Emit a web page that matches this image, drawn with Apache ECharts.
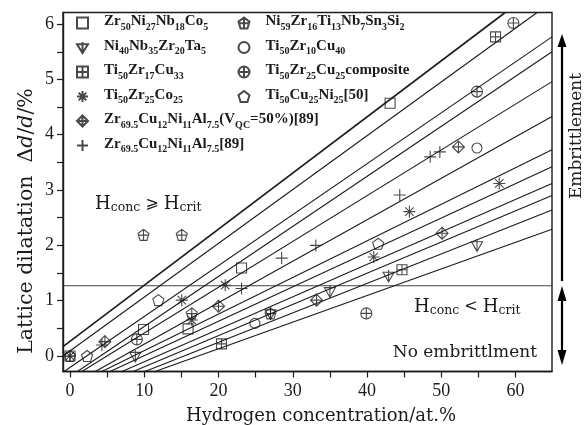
<!DOCTYPE html>
<html>
<head>
<meta charset="utf-8">
<script src="https://cdn.jsdelivr.net/npm/echarts@6/dist/echarts.min.js"></script>
<style>
  html, body { margin: 0; padding: 0; background: #fff; }
  #chart { width: 585px; height: 425px; }
</style>
</head>
<body>
<div id="chart"></div>
<script>
// ---- axis ticks and labels ----
const xTickValues = [0, 5, 10, 15, 20, 25, 30, 35, 40, 45, 50, 55, 60];
const xLabelValues = [0, 10, 20, 30, 40, 50, 60];
const yTickValues = [0, 0.5, 1, 1.5, 2, 2.5, 3, 3.5, 4, 4.5, 5, 5.5, 6];
const yLabelValues = [0, 1, 2, 3, 4, 5, 6];

// critical lattice dilatation separating the two regimes
const criticalDilatation = 1.27;

// ---- measured points: [H concentration at.%, lattice dilatation %] ----
const zrNiNbCo = [[0, 0], [9.9, 0.48], [15.9, 0.49], [23.1, 1.59], [43.1, 4.57]];
const niNbZrTa = [[8.8, 0], [27.0, 0.77], [35.0, 1.17], [42.9, 1.45], [54.8, 2.0]];
const tiZrCu33 = [[20.4, 0.22], [44.7, 1.56], [57.3, 5.77]];
const tiZrCo = [[0, 0], [15.05, 1.01], [16.4, 0.65], [20.9, 1.28], [40.9, 1.79], [45.7, 2.61], [57.8, 3.12]];
const zrCuNiAlQc = [[4.7, 0.26], [20.0, 0.9], [33.2, 1.01], [50.1, 2.22], [52.3, 3.78]];
const zrCuNiAl = [[4.3, 0.2], [23.1, 1.22], [28.5, 1.77], [33.1, 2.0], [44.4, 2.91], [48.5, 3.6], [49.8, 3.69]];
const niZrTiNbSnSi = [[0, 0], [9.9, 2.19], [15.05, 2.19], [16.4, 0.77], [27.0, 0.77]];
const tiZrCu40 = [[24.9, 0.59], [54.8, 3.76]];
const tiZrCuComposite = [[9.0, 0.3], [39.9, 0.77], [54.8, 4.78], [59.7, 6.02]];
const tiCuNi = [[2.3, 0], [11.9, 1.01], [41.5, 2.03]];

// ---- guide lines: [x start, y start, x end, y end] ----
const fanLines = [
  [-0.94, 0.17, 58.6, 6.21],
  [-0.94, 0.0, 62.9, 6.21],
  [-0.8, -0.28, 64.9, 5.77],
  [1.0, -0.28, 64.9, 5.5],
  [1.6, -0.28, 64.9, 4.96],
  [3.4, -0.28, 64.9, 4.33],
  [4.3, -0.28, 64.9, 3.73],
  [5.4, -0.28, 64.9, 3.42],
  [7.0, -0.28, 64.9, 3.12],
  [8.5, -0.28, 64.9, 2.9],
  [10.1, -0.28, 64.9, 2.64],
  [11.45, -0.28, 64.9, 2.29]
];

// ---- marker shapes ----
const P = 'path://';
const shapes = {
  square: P + 'M0,0H10V10H0Z',
  triStem: P + 'M0,2L10,2L5,10Z M5,0L5,10',
  squareCross: P + 'M0,0H10V10H0Z M5,0V10 M0,5H10',
  asterisk: P + 'M5,0V10 M0,5H10 M1.5,1.5L8.5,8.5 M8.5,1.5L1.5,8.5',
  diamondCross: P + 'M5,0L10,5L5,10L0,5Z M5,0V10 M0,5H10',
  plus: P + 'M5,0V10 M0,5H10',
  pentaCross: P + 'M5,0L10,3.8L8.1,10L1.9,10L0,3.8Z M5,0V10 M0,5.2H10',
  circle: P + 'M0,5A5,5,0,1,1,10,5A5,5,0,1,1,0,5Z',
  circleCross: P + 'M0,5A5,5,0,1,1,10,5A5,5,0,1,1,0,5Z M5,0V10 M0,5H10',
  pentagon: P + 'M5,0L10,3.8L8.1,10L1.9,10L0,3.8Z'
};

// legend entries: formulas written with _{...} for subscripts
const entries = [
  { name: 'Zr50Ni27Nb18Co5', label: 'Zr_{50}Ni_{27}Nb_{18}Co_{5}', data: zrNiNbCo, symbol: shapes.square, size: [10, 10] },
  { name: 'Ni40Nb35Zr20Ta5', label: 'Ni_{40}Nb_{35}Zr_{20}Ta_{5}', data: niNbZrTa, symbol: shapes.triStem, size: [11, 12] },
  { name: 'Ti50Zr17Cu33', label: 'Ti_{50}Zr_{17}Cu_{33}', data: tiZrCu33, symbol: shapes.squareCross, size: [10, 10] },
  { name: 'Ti50Zr25Co25', label: 'Ti_{50}Zr_{25}Co_{25}', data: tiZrCo, symbol: shapes.asterisk, size: [12, 12] },
  { name: 'Zr69.5Cu12Ni11Al7.5(VQC=50%)[89]', label: 'Zr_{69.5}Cu_{12}Ni_{11}Al_{7.5}(V_{QC}=50%)[89]', data: zrCuNiAlQc, symbol: shapes.diamondCross, size: [12, 12] },
  { name: 'Zr69.5Cu12Ni11Al7.5[89]', label: 'Zr_{69.5}Cu_{12}Ni_{11}Al_{7.5}[89]', data: zrCuNiAl, symbol: shapes.plus, size: [12, 12] },
  { name: 'Ni59Zr16Ti13Nb7Sn3Si2', label: 'Ni_{59}Zr_{16}Ti_{13}Nb_{7}Sn_{3}Si_{2}', data: niZrTiNbSnSi, symbol: shapes.pentaCross, size: [11, 11] },
  { name: 'Ti50Zr10Cu40', label: 'Ti_{50}Zr_{10}Cu_{40}', data: tiZrCu40, symbol: shapes.circle, size: [10, 10] },
  { name: 'Ti50Zr25Cu25composite', label: 'Ti_{50}Zr_{25}Cu_{25}composite', data: tiZrCuComposite, symbol: shapes.circleCross, size: [11, 11] },
  { name: 'Ti50Cu25Ni25[50]', label: 'Ti_{50}Cu_{25}Ni_{25}[50]', data: tiCuNi, symbol: shapes.pentagon, size: [11, 11] }
];

function toRich(str) {
  const out = [];
  const re = /_\{([^}]*)\}/g;
  let last = 0, m;
  while ((m = re.exec(str)) !== null) {
    if (m.index > last) out.push('{m|' + str.slice(last, m.index) + '}');
    out.push('{s|' + m[1] + '}');
    last = re.lastIndex;
  }
  if (last < str.length) out.push('{m|' + str.slice(last) + '}');
  return out.join('');
}
const legendText = {};
entries.forEach(e => { legendText[e.name] = toRich(e.label); });

const ink = '#1b1b1b';
const serif = 'DejaVu Serif';
const digitFont = 'Liberation Serif';

const legendRich = {
  m: { fontFamily: 'Liberation Serif', fontWeight: 'bold', fontSize: 15, color: ink, lineHeight: 18, verticalAlign: 'top' },
  s: { fontFamily: 'Liberation Serif', fontWeight: 'bold', fontSize: 10, color: ink, lineHeight: 8, verticalAlign: 'bottom' }
};

function legendBlock(left, names) {
  return {
    orient: 'vertical', left: left, top: 14, padding: 0,
    itemWidth: 11, itemHeight: 11, itemGap: 6.5,
    selectedMode: false,
    data: names,
    formatter: n => legendText[n],
    textStyle: { padding: [0, 0, 0, 11], rich: legendRich }
  };
}

const scatterSeries = entries.map(e => ({
  type: 'scatter',
  name: e.name,
  data: e.data,
  symbol: e.symbol,
  symbolSize: e.size,
  itemStyle: { color: 'rgba(255,255,255,0)', borderColor: ink, borderWidth: 1.1 },
  emphasis: { disabled: true },
  z: 5
}));

const lineSeries = fanLines.map((l, i) => ({
  type: 'line',
  name: 'guide' + i,
  data: [[l[0], l[1]], [l[2], l[3]]],
  symbol: 'none',
  clip: true,
  lineStyle: { color: ink, width: i === 0 ? 1.6 : 1.1 },
  silent: true,
  z: 3
}));

const critSeries = {
  type: 'line',
  name: 'critical',
  data: [[-0.94, criticalDilatation], [64.9, criticalDilatation]],
  symbol: 'none',
  lineStyle: { color: '#4a4040', width: 1.1 },
  silent: true,
  z: 2
};

const chart = echarts.init(document.getElementById('chart'), null, { renderer: 'canvas' });

const hRich = (op, opFont) => ({
  h: { fontFamily: serif, fontSize: 18, fill: ink, lineHeight: 19, verticalAlign: 'top' },
  b: { fontFamily: serif, fontSize: 12.5, fill: ink, lineHeight: 12, verticalAlign: 'bottom' },
  o: { fontFamily: opFont, fontSize: 16, fill: ink, lineHeight: 19, verticalAlign: 'top' }
});

const option = {
  animation: false,
  backgroundColor: '#fff',
  grid: { left: 63, right: 33, top: 12.5, bottom: 53.5, show: true, borderColor: ink, borderWidth: 1.4, backgroundColor: 'transparent' },
  xAxis: {
    type: 'value', min: -0.94, max: 64.9,
    splitLine: { show: false },
    axisLine: { show: true, onZero: false, lineStyle: { color: ink, width: 1.4 } },
    axisTick: { show: true, inside: false, length: 6, customValues: xTickValues, lineStyle: { color: ink, width: 1.2 } },
    axisLabel: { customValues: xLabelValues, margin: 11, fontFamily: digitFont, fontSize: 18, color: ink }
  },
  yAxis: {
    type: 'value', min: -0.28, max: 6.21,
    splitLine: { show: false },
    axisLine: { show: true, onZero: false, lineStyle: { color: ink, width: 1.4 } },
    axisTick: { show: true, inside: false, length: 6, customValues: yTickValues, lineStyle: { color: ink, width: 1.2 } },
    axisLabel: { customValues: yLabelValues, margin: 9, fontFamily: digitFont, fontSize: 18, color: ink }
  },
  legend: [
    legendBlock(76, entries.slice(0, 6).map(e => e.name)),
    legendBlock(237.5, entries.slice(6).map(e => e.name))
  ],
  series: [critSeries].concat(lineSeries, scatterSeries),
  graphic: [
    {
      type: 'text', x: 27, y: 221, rotation: Math.PI / 2,
      style: {
        text: '{t|Lattice dilatation  }{g|Δ}{i|d}{t|/}{i|d}{t|/%}',
        align: 'center', verticalAlign: 'middle',
        rich: {
          t: { fontFamily: serif, fontSize: 20.5, fill: ink },
          g: { fontFamily: serif, fontSize: 20.5, fill: ink },
          i: { fontFamily: serif, fontStyle: 'italic', fontSize: 20.5, fill: ink }
        }
      }
    },
    {
      type: 'text', x: 321, y: 416,
      style: { text: 'Hydrogen concentration/at.%', align: 'center', verticalAlign: 'middle', fontFamily: serif, fontSize: 18, fill: ink }
    },
    {
      type: 'text', x: 577, y: 136, rotation: Math.PI / 2,
      style: { text: 'Embrittlement', align: 'center', verticalAlign: 'middle', fontFamily: serif, fontSize: 17, fill: ink }
    },
    {
      type: 'text', x: 95, y: 205,
      style: {
        text: '{h|H}{b|conc}{o| ⩾ }{h|H}{b|crit}',
        align: 'left', verticalAlign: 'middle',
        rich: hRich('⩾', 'DejaVu Sans')
      }
    },
    {
      type: 'text', x: 414, y: 308,
      style: {
        text: '{h|H}{b|conc}{o| < }{h|H}{b|crit}',
        align: 'left', verticalAlign: 'middle',
        rich: hRich('<', serif)
      }
    },
    {
      type: 'text', x: 537, y: 353,
      style: { text: 'No embrittlment', align: 'right', verticalAlign: 'middle', fontFamily: serif, fontSize: 17, fill: ink }
    },
    // upward arrow for the embrittlement regime
    { type: 'line', shape: { x1: 562, y1: 281, x2: 562, y2: 44 }, style: { stroke: '#000', lineWidth: 2.2 } },
    { type: 'polygon', shape: { points: [[557.5, 47], [566.5, 47], [562, 34]] }, style: { fill: '#000' } },
    // double arrow for the non-embrittled regime
    { type: 'line', shape: { x1: 562, y1: 298, x2: 562, y2: 352 }, style: { stroke: '#000', lineWidth: 2.2 } },
    { type: 'polygon', shape: { points: [[557.5, 301], [566.5, 301], [562, 286]] }, style: { fill: '#000' } },
    { type: 'polygon', shape: { points: [[557.5, 350], [566.5, 350], [562, 365]] }, style: { fill: '#000' } }
  ]
};

chart.setOption(option);
</script>
</body>
</html>
